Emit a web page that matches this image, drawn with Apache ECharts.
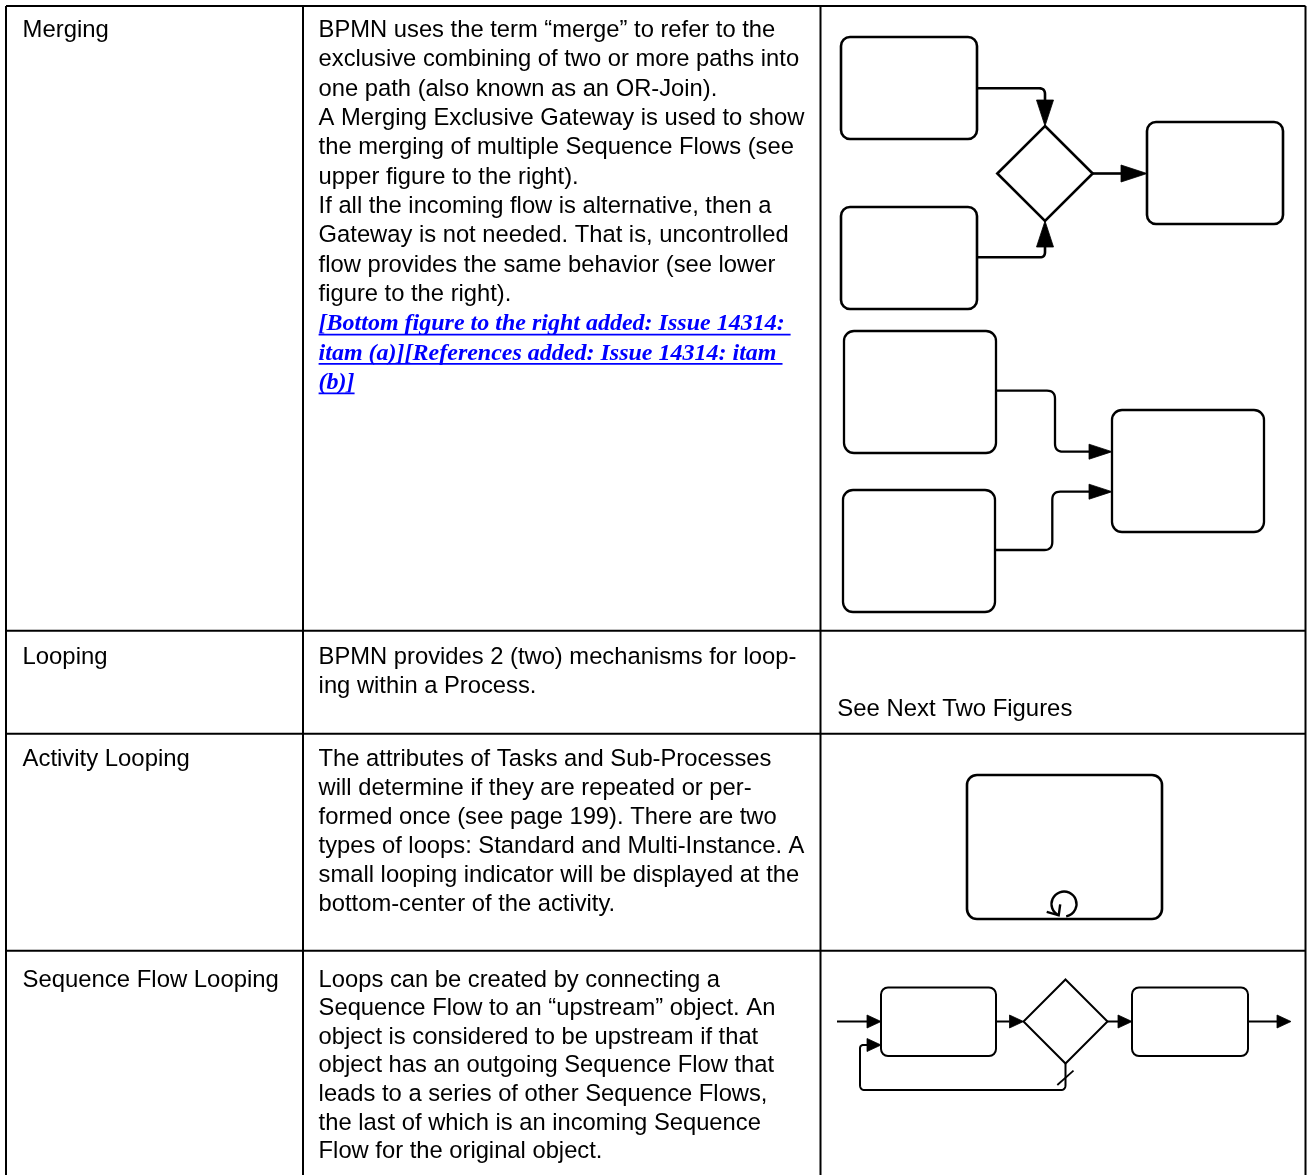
<!DOCTYPE html>
<html><head><meta charset="utf-8">
<script src="https://cdn.jsdelivr.net/npm/echarts@6/dist/echarts.min.js"></script>
<style>html,body{margin:0;padding:0;background:#fff}#c{width:1308px;height:1175px}</style>
</head><body><div id="c"></div>
<script>
// ================= DATA (diagram units) =================
const colRules = [6, 303, 820.5, 1305.5];
const rowRules = [6, 630.7, 733.7, 950.7];
const tableBottom = 1180;

const rowTitles = ['Merging', 'Looping', 'Activity Looping', 'Sequence Flow Looping'];
const rowFirstLine = [30.5, 657.5, 759, 980];
const rowDescriptions = [
  ['BPMN uses the term \u201cmerge\u201d to refer to the',
   'exclusive combining of two or more paths into',
   'one path (also known as an OR-Join).',
   'A Merging Exclusive Gateway is used to show',
   'the merging of multiple Sequence Flows (see',
   'upper figure to the right).',
   'If all the incoming flow is alternative, then a',
   'Gateway is not needed. That is, uncontrolled',
   'flow provides the same behavior (see lower',
   'figure to the right).'],
  ['BPMN provides 2 (two) mechanisms for loop-',
   'ing within a Process.'],
  ['The attributes of Tasks and Sub-Processes',
   'will determine if they are repeated or per-',
   'formed once (see page 199). There are two',
   'types of loops: Standard and Multi-Instance. A',
   'small looping indicator will be displayed at the',
   'bottom-center of the activity.'],
  ['Loops can be created by connecting a',
   'Sequence Flow to an \u201cupstream\u201d object. An',
   'object is considered to be upstream if that',
   'object has an outgoing Sequence Flow that',
   'leads to a series of other Sequence Flows,',
   'the last of which is an incoming Sequence',
   'Flow for the original object.']
];
const issueNoteLines = [
  '[Bottom figure to the right added: Issue 14314: ',
  'itam (a)][References added: Issue 14314: itam ',
  '(b)]'
];
const figureNote = 'See Next Two Figures';
const figureNoteLine = 709;

// Figure 1: merging with exclusive gateway
const mergeGatewayActivities = [[841, 37, 977, 139], [841, 207, 977, 309], [1147, 122, 1283, 224]];
const mergeGateways = [[1045, 173.5, 47.7, 47.5]];
const mergeGatewayFlows = [
  [[977, 88.3], [1045, 88.3], [1045, 126]],
  [[977, 257.3], [1045, 257.3], [1045, 221]],
  [[1092.7, 173.5], [1147, 173.5]]
];
// Figure 2: uncontrolled merging
const mergeUncontrolledActivities = [[844, 331, 996, 453], [843, 490, 995, 612], [1112, 410, 1264, 532]];
const mergeUncontrolledFlows = [
  [[996, 390.7], [1055, 390.7], [1055, 451.7], [1112, 451.7]],
  [[995, 550], [1052.3, 550], [1052.3, 491.7], [1112, 491.7]]
];
// Figure 3: activity looping
const loopActivities = [[967, 775, 1162, 919]];
const loopMarkers = [[1064, 904, 12.5]];
// Figure 4: sequence flow looping
const sequenceActivities = [[881, 987.5, 996, 1056], [1132, 987.5, 1248, 1056]];
const sequenceGateways = [[1065.5, 1021.5, 42, 42]];
const sequenceFlows = [
  [[837, 1021.5], [881, 1021.5]],
  [[996, 1021.5], [1023.5, 1021.5]],
  [[1107.5, 1021.5], [1132, 1021.5]],
  [[1248, 1021.5], [1291, 1021.5]],
  [[1065.5, 1063.5], [1065.5, 1090], [860, 1090], [860, 1045], [881, 1045]]
];
const defaultMarkers = [[1057.3, 1085, 1073.5, 1070.7]];

// ================= STYLE / LAYOUT =================
const SANS = '"Liberation Sans", Arial, Helvetica, sans-serif';
const COL_FONT = ['23.9px ' + SANS, '23.75px ' + SANS, '23.9px ' + SANS];
const LINK_FONT = 'italic bold 24px "Liberation Serif", "Times New Roman", Times, serif';
const TEXT_INSET = [16.5, 15.6, 16.8];
const ROW_LINE_H = [29.35, 28.5, 29, 28.6];

const chart = echarts.init(document.getElementById('c'), null, {renderer: 'canvas', width: 1308, height: 1175});

const measureCtx = document.createElement('canvas').getContext('2d');
function textWidth(t, font) { measureCtx.font = font; return measureCtx.measureText(t).width; }

// text items built from the arrays above
const textItems = [];
rowTitles.forEach((t, r) => textItems.push({x: colRules[0] + TEXT_INSET[0], y: rowFirstLine[r], text: t, col: 0}));
rowDescriptions.forEach((lines, r) => lines.forEach((t, i) =>
  textItems.push({x: colRules[1] + TEXT_INSET[1], y: rowFirstLine[r] + i * ROW_LINE_H[r], text: t, col: 1})));
issueNoteLines.forEach((t, i) => textItems.push({
  x: colRules[1] + TEXT_INSET[1], y: rowFirstLine[0] + (rowDescriptions[0].length + i) * ROW_LINE_H[0], text: t, col: 1, link: true}));
textItems.push({x: colRules[2] + TEXT_INSET[2], y: figureNoteLine, text: figureNote, col: 2});

// table rules
const ruleSegments = [];
colRules.forEach(x => ruleSegments.push([x, rowRules[0], x, tableBottom]));
rowRules.forEach(y => ruleSegments.push([colRules[0], y, colRules[colRules.length - 1], y]));

function pt(api, x, y) { return api.coord([x, y]); }

function roundedPoints(pts, r) {
  const out = [pts[0]];
  for (let i = 1; i < pts.length - 1; i++) {
    const a = pts[i - 1], p = pts[i], b = pts[i + 1];
    const l1 = Math.hypot(p[0] - a[0], p[1] - a[1]), l2 = Math.hypot(b[0] - p[0], b[1] - p[1]);
    const rr = Math.min(r, l1 / 2, l2 / 2);
    const s = [p[0] - (p[0] - a[0]) / l1 * rr, p[1] - (p[1] - a[1]) / l1 * rr];
    const e = [p[0] + (b[0] - p[0]) / l2 * rr, p[1] + (b[1] - p[1]) / l2 * rr];
    for (let k = 0; k <= 8; k++) {
      const t = k / 8, u = 1 - t;
      out.push([u * u * s[0] + 2 * u * t * p[0] + t * t * e[0], u * u * s[1] + 2 * u * t * p[1] + t * t * e[1]]);
    }
  }
  out.push(pts[pts.length - 1]);
  return out;
}

function activitySeries(data, st) {
  return {
    type: 'custom', coordinateSystem: 'cartesian2d', silent: true, animation: false, z: 3,
    data: data,
    renderItem: (params, api) => {
      const p1 = pt(api, api.value(0), api.value(1));
      const p2 = pt(api, api.value(2), api.value(3));
      return {type: 'rect', shape: {x: p1[0], y: p1[1], width: p2[0] - p1[0], height: p2[1] - p1[1], r: st.radius},
        style: {fill: '#fff', stroke: '#000', lineWidth: st.lineWidth}};
    }
  };
}
function gatewaySeries(data, st) {
  return {
    type: 'custom', coordinateSystem: 'cartesian2d', silent: true, animation: false, z: 3,
    data: data,
    renderItem: (params, api) => {
      const cx = api.value(0), cy = api.value(1), hw = api.value(2), hh = api.value(3);
      const pts = [[cx, cy - hh], [cx + hw, cy], [cx, cy + hh], [cx - hw, cy]].map(q => pt(api, q[0], q[1]));
      return {type: 'polygon', shape: {points: pts}, style: {fill: '#fff', stroke: '#000', lineWidth: st.lineWidth, lineJoin: 'miter'}};
    }
  };
}
function flowSeries(flows, st) {
  return {
    type: 'custom', coordinateSystem: 'cartesian2d', silent: true, animation: false, z: 4,
    data: flows.map(f => f[0]),
    renderItem: (params, api) => {
      const pts = flows[params.dataIndex].map(q => pt(api, q[0], q[1]));
      const n = pts.length;
      const tip = pts[n - 1], prev = pts[n - 2];
      const L = Math.hypot(tip[0] - prev[0], tip[1] - prev[1]);
      const ux = (tip[0] - prev[0]) / L, uy = (tip[1] - prev[1]) / L;
      const base = [tip[0] - ux * st.arrowLen, tip[1] - uy * st.arrowLen];
      const linePts = pts.slice(0, n - 1).concat([base]);
      const b1 = [base[0] - uy * st.arrowHalf, base[1] + ux * st.arrowHalf];
      const b2 = [base[0] + uy * st.arrowHalf, base[1] - ux * st.arrowHalf];
      return {type: 'group', children: [
        {type: 'polyline', shape: {points: roundedPoints(linePts, st.cornerR)}, style: {fill: null, stroke: '#000', lineWidth: st.lineWidth}},
        {type: 'polygon', shape: {points: [tip, b1, b2]}, style: {fill: '#000', stroke: '#000', lineWidth: 0.8}}
      ]};
    }
  };
}

const option = {
  backgroundColor: '#fff',
  animation: false,
  grid: {left: 0, right: 0, top: 0, bottom: 0, containLabel: false},
  xAxis: {type: 'value', min: 0, max: 1308, show: false},
  yAxis: {type: 'value', min: 0, max: 1175, inverse: true, show: false},
  series: [
    // table rules
    {
      type: 'custom', coordinateSystem: 'cartesian2d', silent: true, animation: false, z: 1,
      data: ruleSegments,
      renderItem: (params, api) => {
        const a = pt(api, api.value(0), api.value(1)), b = pt(api, api.value(2), api.value(3));
        return {type: 'line', shape: {x1: a[0], y1: a[1], x2: b[0], y2: b[1]}, style: {stroke: '#000', lineWidth: 2}};
      }
    },
    // text
    {
      type: 'custom', coordinateSystem: 'cartesian2d', silent: true, animation: false, z: 5,
      data: textItems.map(t => [t.x, t.y]),
      renderItem: (params, api) => {
        const it = textItems[params.dataIndex];
        const p = pt(api, api.value(0), api.value(1));
        const font = it.link ? LINK_FONT : COL_FONT[it.col];
        const children = [{type: 'text', x: p[0], y: p[1],
          style: {text: it.text, font: font, fill: it.link ? '#0000ff' : '#000', textAlign: 'left', textVerticalAlign: 'middle'}}];
        if (it.link) {
          const w = textWidth(it.text, font);
          children.push({type: 'line', shape: {x1: p[0], y1: p[1] + 10.6, x2: p[0] + w, y2: p[1] + 10.6},
            style: {stroke: '#0000ff', lineWidth: 1.8}});
        }
        return {type: 'group', children: children};
      }
    },
    activitySeries(mergeGatewayActivities, {radius: 9, lineWidth: 2.6}),
    gatewaySeries(mergeGateways, {lineWidth: 2.6}),
    flowSeries(mergeGatewayFlows, {lineWidth: 2.6, arrowLen: 26, arrowHalf: 8.5, cornerR: 10}),
    activitySeries(mergeUncontrolledActivities, {radius: 10, lineWidth: 2.3}),
    flowSeries(mergeUncontrolledFlows, {lineWidth: 2.3, arrowLen: 23, arrowHalf: 7.5, cornerR: 8}),
    activitySeries(loopActivities, {radius: 10, lineWidth: 2.6}),
    // loop marker
    {
      type: 'custom', coordinateSystem: 'cartesian2d', silent: true, animation: false, z: 4,
      data: loopMarkers,
      renderItem: (params, api) => {
        const c = pt(api, api.value(0), api.value(1));
        const r = api.value(2);
        const a0 = 115 * Math.PI / 180;
        const tip = [c[0] + r * Math.cos(a0), c[1] + r * Math.sin(a0)];
        return {type: 'group', children: [
          {type: 'arc', shape: {cx: c[0], cy: c[1], r: r, startAngle: a0, endAngle: 80 * Math.PI / 180 + 2 * Math.PI, clockwise: true},
            style: {fill: null, stroke: '#000', lineWidth: 2.4}},
          {type: 'polyline', shape: {points: [[tip[0] - 12, tip[1] - 3.5], tip, [tip[0] + 1.5, tip[1] - 11]]},
            style: {fill: null, stroke: '#000', lineWidth: 2.4}}
        ]};
      }
    },
    activitySeries(sequenceActivities, {radius: 7, lineWidth: 2}),
    gatewaySeries(sequenceGateways, {lineWidth: 2}),
    flowSeries(sequenceFlows, {lineWidth: 2, arrowLen: 14, arrowHalf: 6.5, cornerR: 5}),
    // default-flow marker
    {
      type: 'custom', coordinateSystem: 'cartesian2d', silent: true, animation: false, z: 5,
      data: defaultMarkers,
      renderItem: (params, api) => {
        const a = pt(api, api.value(0), api.value(1)), b = pt(api, api.value(2), api.value(3));
        return {type: 'line', shape: {x1: a[0], y1: a[1], x2: b[0], y2: b[1]}, style: {stroke: '#000', lineWidth: 1.8}};
      }
    }
  ]
};
chart.setOption(option);
</script>
</body></html>
